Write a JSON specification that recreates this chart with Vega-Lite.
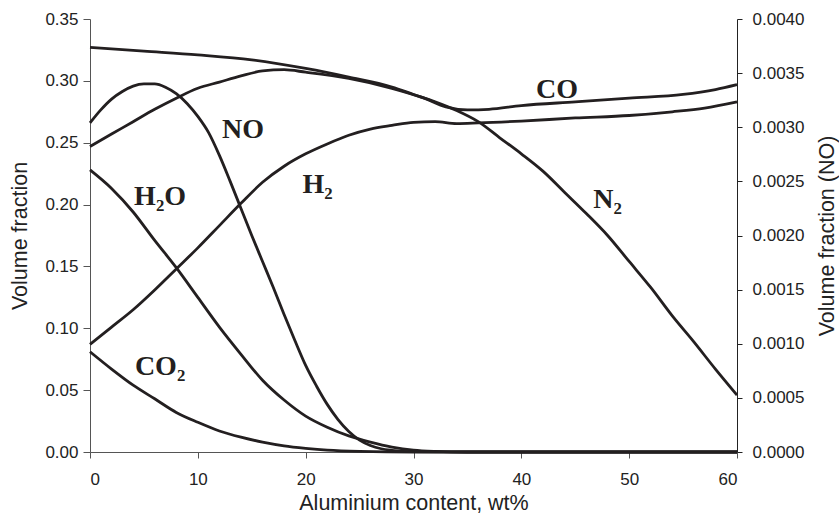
{
  "$schema": "https://vega.github.io/schema/vega-lite/v6.json",
  "width": 647,
  "height": 433,
  "autosize": {"type": "none"},
  "padding": {"left": 90, "top": 19, "right": 102, "bottom": 65},
  "background": "white",
  "config": {
    "view": {"stroke": null},
    "font": "Liberation Sans",
    "axis": {
      "grid": false,
      "domainColor": "#555555",
      "tickColor": "#555555",
      "labelColor": "#222222",
      "titleColor": "#222222",
      "labelFont": "Liberation Sans",
      "titleFont": "Liberation Sans",
      "labelFontSize": 17,
      "titleFontSize": 21.5,
      "titleFontWeight": "normal",
      "tickSize": 7,
      "labelPadding": 5
    }
  },
  "datasets": {
    "gases": [
      {"gas": "N2", "al": 0, "v": 0.327}, {"gas": "N2", "al": 5, "v": 0.324}, {"gas": "N2", "al": 10, "v": 0.321},
      {"gas": "N2", "al": 15, "v": 0.317}, {"gas": "N2", "al": 20, "v": 0.310}, {"gas": "N2", "al": 24, "v": 0.303},
      {"gas": "N2", "al": 28, "v": 0.295}, {"gas": "N2", "al": 30, "v": 0.289}, {"gas": "N2", "al": 32, "v": 0.283},
      {"gas": "N2", "al": 34, "v": 0.276}, {"gas": "N2", "al": 36, "v": 0.267}, {"gas": "N2", "al": 38, "v": 0.254},
      {"gas": "N2", "al": 40, "v": 0.241}, {"gas": "N2", "al": 42, "v": 0.227}, {"gas": "N2", "al": 44, "v": 0.210},
      {"gas": "N2", "al": 46, "v": 0.193}, {"gas": "N2", "al": 48, "v": 0.175}, {"gas": "N2", "al": 50, "v": 0.154},
      {"gas": "N2", "al": 52, "v": 0.133}, {"gas": "N2", "al": 54, "v": 0.110}, {"gas": "N2", "al": 56, "v": 0.089},
      {"gas": "N2", "al": 58, "v": 0.067}, {"gas": "N2", "al": 60, "v": 0.046},

      {"gas": "CO", "al": 0, "v": 0.247}, {"gas": "CO", "al": 2, "v": 0.257}, {"gas": "CO", "al": 4, "v": 0.267},
      {"gas": "CO", "al": 6, "v": 0.277}, {"gas": "CO", "al": 8, "v": 0.286}, {"gas": "CO", "al": 10, "v": 0.294},
      {"gas": "CO", "al": 12, "v": 0.299}, {"gas": "CO", "al": 14, "v": 0.304}, {"gas": "CO", "al": 16, "v": 0.308},
      {"gas": "CO", "al": 18, "v": 0.309}, {"gas": "CO", "al": 20, "v": 0.307}, {"gas": "CO", "al": 24, "v": 0.302},
      {"gas": "CO", "al": 28, "v": 0.294}, {"gas": "CO", "al": 31, "v": 0.286}, {"gas": "CO", "al": 33, "v": 0.279},
      {"gas": "CO", "al": 35, "v": 0.2765}, {"gas": "CO", "al": 37, "v": 0.277}, {"gas": "CO", "al": 40, "v": 0.280},
      {"gas": "CO", "al": 45, "v": 0.283}, {"gas": "CO", "al": 50, "v": 0.286}, {"gas": "CO", "al": 55, "v": 0.289},
      {"gas": "CO", "al": 58, "v": 0.293}, {"gas": "CO", "al": 60, "v": 0.297},

      {"gas": "H2", "al": 0, "v": 0.087}, {"gas": "H2", "al": 2, "v": 0.101}, {"gas": "H2", "al": 4, "v": 0.115},
      {"gas": "H2", "al": 6, "v": 0.131}, {"gas": "H2", "al": 8, "v": 0.148}, {"gas": "H2", "al": 10, "v": 0.165},
      {"gas": "H2", "al": 12, "v": 0.183}, {"gas": "H2", "al": 14, "v": 0.201}, {"gas": "H2", "al": 16, "v": 0.218},
      {"gas": "H2", "al": 18, "v": 0.231}, {"gas": "H2", "al": 20, "v": 0.241}, {"gas": "H2", "al": 22, "v": 0.249},
      {"gas": "H2", "al": 24, "v": 0.256}, {"gas": "H2", "al": 26, "v": 0.261}, {"gas": "H2", "al": 28, "v": 0.264},
      {"gas": "H2", "al": 30, "v": 0.2665}, {"gas": "H2", "al": 32, "v": 0.267}, {"gas": "H2", "al": 34, "v": 0.2655},
      {"gas": "H2", "al": 36, "v": 0.266}, {"gas": "H2", "al": 40, "v": 0.2675}, {"gas": "H2", "al": 45, "v": 0.270},
      {"gas": "H2", "al": 50, "v": 0.272}, {"gas": "H2", "al": 54, "v": 0.275}, {"gas": "H2", "al": 57, "v": 0.278},
      {"gas": "H2", "al": 60, "v": 0.283},

      {"gas": "H2O", "al": 0, "v": 0.228}, {"gas": "H2O", "al": 2, "v": 0.213}, {"gas": "H2O", "al": 4, "v": 0.194},
      {"gas": "H2O", "al": 6, "v": 0.171}, {"gas": "H2O", "al": 8, "v": 0.149}, {"gas": "H2O", "al": 10, "v": 0.125},
      {"gas": "H2O", "al": 12, "v": 0.101}, {"gas": "H2O", "al": 14, "v": 0.079}, {"gas": "H2O", "al": 16, "v": 0.058},
      {"gas": "H2O", "al": 18, "v": 0.042}, {"gas": "H2O", "al": 20, "v": 0.029}, {"gas": "H2O", "al": 22, "v": 0.020},
      {"gas": "H2O", "al": 24, "v": 0.013}, {"gas": "H2O", "al": 26, "v": 0.008}, {"gas": "H2O", "al": 28, "v": 0.004},
      {"gas": "H2O", "al": 30, "v": 0.0015}, {"gas": "H2O", "al": 32, "v": 0.0005}, {"gas": "H2O", "al": 35, "v": 0},
      {"gas": "H2O", "al": 45, "v": 0}, {"gas": "H2O", "al": 60, "v": 0},

      {"gas": "CO2", "al": 0, "v": 0.081}, {"gas": "CO2", "al": 2, "v": 0.067}, {"gas": "CO2", "al": 4, "v": 0.054},
      {"gas": "CO2", "al": 6, "v": 0.043}, {"gas": "CO2", "al": 8, "v": 0.032}, {"gas": "CO2", "al": 10, "v": 0.024},
      {"gas": "CO2", "al": 12, "v": 0.017}, {"gas": "CO2", "al": 14, "v": 0.012}, {"gas": "CO2", "al": 16, "v": 0.008},
      {"gas": "CO2", "al": 18, "v": 0.005}, {"gas": "CO2", "al": 20, "v": 0.003}, {"gas": "CO2", "al": 22, "v": 0.0015},
      {"gas": "CO2", "al": 25, "v": 0.0005}, {"gas": "CO2", "al": 30, "v": 0}, {"gas": "CO2", "al": 45, "v": 0},
      {"gas": "CO2", "al": 60, "v": 0}
    ],
    "nitric": [
      {"al": 0, "no": 0.00304}, {"al": 1, "no": 0.00316}, {"al": 2, "no": 0.00326}, {"al": 3, "no": 0.00333},
      {"al": 4, "no": 0.00338}, {"al": 5, "no": 0.00340}, {"al": 6, "no": 0.00340}, {"al": 7, "no": 0.00337},
      {"al": 8, "no": 0.00331}, {"al": 9, "no": 0.00322}, {"al": 10, "no": 0.00310}, {"al": 11, "no": 0.00295},
      {"al": 12, "no": 0.00274}, {"al": 13, "no": 0.00250}, {"al": 14, "no": 0.00225}, {"al": 15, "no": 0.00200},
      {"al": 16, "no": 0.00176}, {"al": 17, "no": 0.00152}, {"al": 18, "no": 0.00127}, {"al": 19, "no": 0.00103},
      {"al": 20, "no": 0.00080}, {"al": 21, "no": 0.00061}, {"al": 22, "no": 0.00044}, {"al": 23, "no": 0.00030},
      {"al": 24, "no": 0.00019}, {"al": 25, "no": 0.00011}, {"al": 26, "no": 0.00006}, {"al": 27, "no": 0.00003},
      {"al": 28, "no": 0.000015}, {"al": 30, "no": 0.000003}, {"al": 35, "no": 0}, {"al": 45, "no": 0}, {"al": 60, "no": 0}
    ],
    "labels": [
      {"name": "NO", "al": 14.2, "v": 0.260},
      {"name": "H₂O", "al": 6.5, "v": 0.206},
      {"name": "H₂", "al": 21.1, "v": 0.216},
      {"name": "CO", "al": 43.3, "v": 0.293},
      {"name": "N₂", "al": 48.0, "v": 0.204},
      {"name": "CO₂", "al": 6.5, "v": 0.069}
    ]
  },
  "layer": [
    {
      "data": {"name": "gases"},
      "mark": {"type": "line", "interpolate": "monotone", "color": "#231f20", "strokeWidth": 2.8},
      "encoding": {
        "x": {
          "field": "al", "type": "quantitative",
          "scale": {"domain": [0, 60], "nice": false},
          "axis": {"values": [0, 10, 20, 30, 40, 50, 60], "format": "d", "title": "Aluminium content, wt%", "tickSize": 6, "labelPadding": 13, "titlePadding": 5}
        },
        "y": {
          "field": "v", "type": "quantitative",
          "scale": {"domain": [0, 0.35], "nice": false},
          "axis": {"orient": "left", "values": [0, 0.05, 0.1, 0.15, 0.2, 0.25, 0.3, 0.35], "format": ".2f", "title": "Volume fraction", "titlePadding": 13}
        },
        "detail": {"field": "gas"}
      }
    },
    {
      "data": {"name": "nitric"},
      "mark": {"type": "line", "interpolate": "monotone", "color": "#231f20", "strokeWidth": 2.8},
      "encoding": {
        "x": {"field": "al", "type": "quantitative", "scale": {"domain": [0, 60], "nice": false}},
        "y": {
          "field": "no", "type": "quantitative",
          "scale": {"domain": [0, 0.004], "nice": false},
          "axis": {"orient": "right", "values": [0, 0.0005, 0.001, 0.0015, 0.002, 0.0025, 0.003, 0.0035, 0.004], "format": ".4f", "title": "Volume fraction (NO)", "titleAngle": 270, "domainColor": "#222222", "tickColor": "#222222", "tickSize": 5, "labelPadding": 10, "titlePadding": 35}
        }
      }
    },
    {
      "data": {"name": "labels"},
      "mark": {"type": "text", "font": "Liberation Serif", "fontWeight": "bold", "fontSize": 28, "color": "#231f20", "align": "center", "baseline": "middle"},
      "encoding": {
        "x": {"field": "al", "type": "quantitative", "scale": {"domain": [0, 60], "nice": false}},
        "y": {"field": "v", "type": "quantitative", "scale": {"domain": [0, 0.35], "nice": false}, "axis": null},
        "text": {"field": "name"}
      }
    }
  ],
  "resolve": {"scale": {"y": "independent"}}
}
